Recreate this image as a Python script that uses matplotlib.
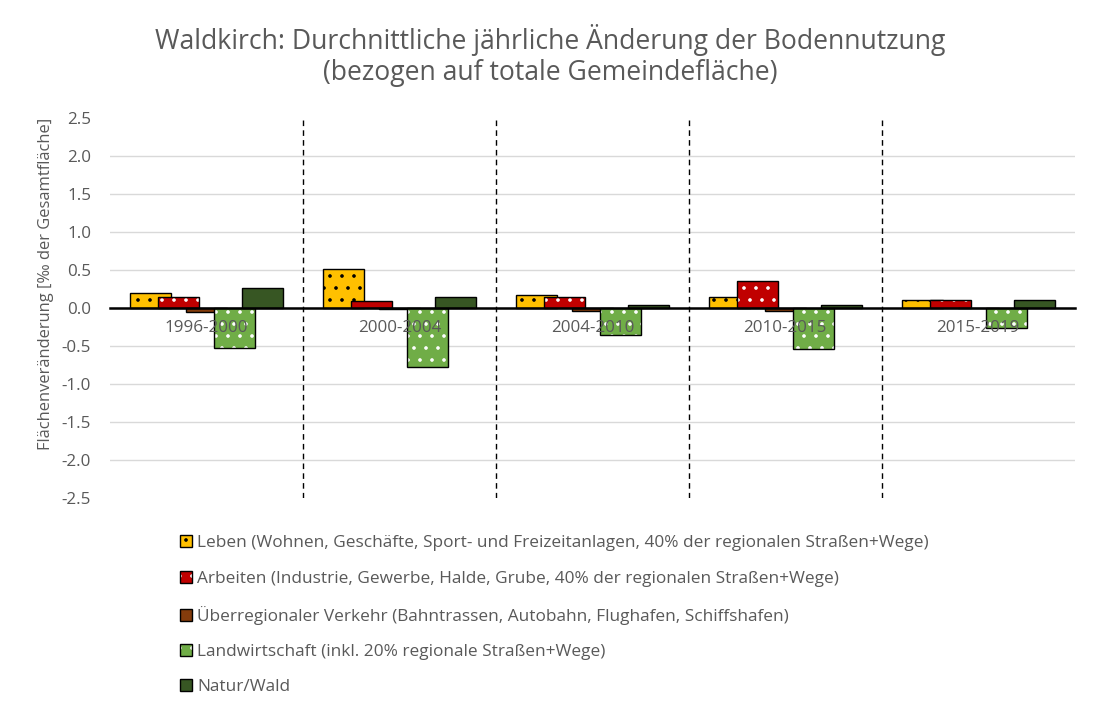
import matplotlib

matplotlib.use("Agg")
import matplotlib.pyplot as plt
import numpy as np

# Zeiträume und mittlere jährliche Änderung [‰ der Gesamtfläche]
perioden = ["1996-2000", "2000-2004", "2004-2010", "2010-2015", "2015-2019"]
leben = [0.20, 0.51, 0.17, 0.145, 0.11]
arbeiten = [0.15, 0.09, 0.14, 0.35, 0.11]
verkehr = [-0.05, -0.01, -0.04, -0.04, -0.005]
landwirtschaft = [-0.52, -0.78, -0.35, -0.54, -0.26]
natur = [0.26, 0.15, 0.035, 0.045, 0.105]

namen = [
    "Leben (Wohnen, Geschäfte, Sport- und Freizeitanlagen, 40% der regionalen Straßen+Wege)",
    "Arbeiten (Industrie, Gewerbe, Halde, Grube, 40% der regionalen Straßen+Wege)",
    "Überregionaler Verkehr (Bahntrassen, Autobahn, Flughafen, Schiffshafen)",
    "Landwirtschaft (inkl. 20% regionale Straßen+Wege)",
    "Natur/Wald",
]
farben = ["#FFC000", "#C00000", "#843C0C", "#70AD47", "#375623"]
punkte = ["black", "white", None, "white", None]

GRAU = "#595959"
plt.rcParams["font.family"] = ["Open Sans", "DejaVu Sans"]
plt.rcParams["hatch.linewidth"] = 1.2

# dpi 72: 1 pt = 1 px, Punktraster ca. 12 px wie im Original
fig = plt.figure(figsize=(1100 / 72, 718 / 72), dpi=72)
ax = fig.add_axes([0.1, 0.3064, 0.877, 0.5293])

x = np.arange(len(perioden))
schritt = 0.145
breite = 0.212
handles = []
for i, (werte, farbe, punkt) in enumerate(zip([leben, arbeiten, verkehr, landwirtschaft, natur],
                                                farben, punkte)):
    pos = x + (i - 2) * schritt
    if punkt:
        f = ax.bar(pos, werte, breite, color=farbe, edgecolor=punkt, hatch=".",
                   linewidth=0, zorder=3)
    else:
        f = ax.bar(pos, werte, breite, color=farbe, linewidth=0, zorder=3)
    r = ax.bar(pos, werte, breite, fill=False, edgecolor="black", linewidth=1.4, zorder=3)
    handles.append((f[0], r[0]))

ax.set_xlim(-0.5, len(perioden) - 0.5)
ax.set_ylim(-2.5, 2.5)
yt = np.arange(-2.5, 2.51, 0.5)
ax.set_yticks(yt)
ax.set_yticklabels([f"{v:.1f}" for v in yt])
ax.yaxis.grid(True, color="#D9D9D9", linewidth=1.4, zorder=0)
ax.set_axisbelow(True)
gl = ax.get_ygridlines()
gl[0].set_visible(False)
gl[-1].set_visible(False)

for s in ["top", "right", "left"]:
    ax.spines[s].set_visible(False)
ax.spines["bottom"].set_position(("data", 0))
ax.spines["bottom"].set_linewidth(2.5)
ax.spines["bottom"].set_zorder(4)
ax.set_xticks(x)
ax.set_xticklabels([])
ax.tick_params(axis="x", length=0)
ax.tick_params(axis="y", length=0, pad=19, labelsize=17, labelcolor=GRAU)

# Kategorienbeschriftung über den Balken, direkt unter der Nulllinie
for xi, p in zip(x, perioden):
    ax.annotate(p, xy=(xi, 0), xytext=(0, -20), textcoords="offset pixels",
                ha="center", va="center", fontsize=17, color=GRAU, zorder=6)

for t in x[:-1] + 0.5:
    ax.axvline(t, color="black", linewidth=1.4, linestyle=(0, (4, 3)), zorder=2)

ax.set_ylabel("Flächenveränderung [‰ der Gesamtfläche]", fontsize=16.5, color=GRAU)
ax.yaxis.set_label_coords(-0.058, 0.563)

fig.text(0.5, 1 - 40 / 718, "Waldkirch: Durchnittliche jährliche Änderung der Bodennutzung",
         ha="center", va="center", fontsize=26.5, color=GRAU)
fig.text(0.5, 1 - 73 / 718, "(bezogen auf totale Gemeindefläche)",
         ha="center", va="center", fontsize=26.5, color=GRAU)

fig.legend(handles, namen, loc="upper left", bbox_to_anchor=(0.1495, 0.276),
           frameon=False, fontsize=17.2, labelcolor=GRAU, handlelength=0.7,
           handleheight=0.7, handletextpad=0.3, labelspacing=1.12)

fig.savefig("out.png", dpi=72)
